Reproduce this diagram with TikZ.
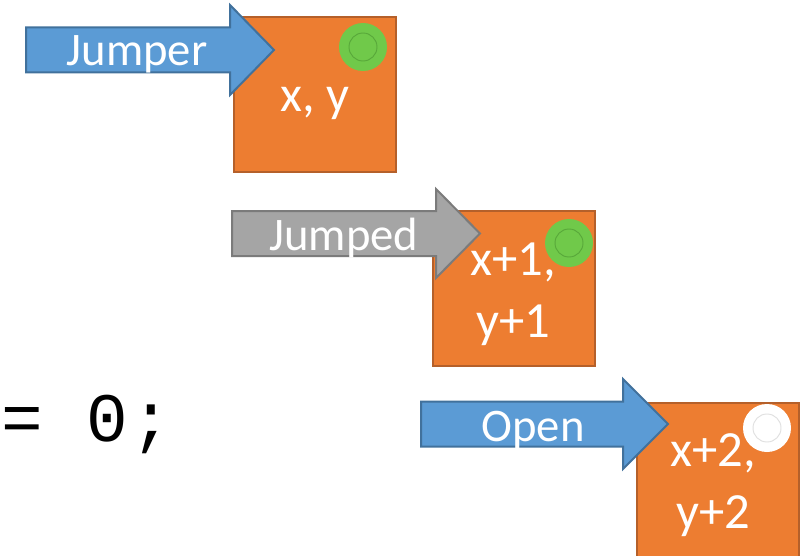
\documentclass[tikz,border=0pt]{standalone}
\usepackage{fontspec}
\setmainfont{Carlito}
\newfontfamily\codefont[LetterSpace=3]{Liberation Mono}
\definecolor{cellorange}{HTML}{ED7D31}
\definecolor{celledge}{HTML}{B5602A}
\definecolor{moveblue}{HTML}{5B9BD5}
\definecolor{moveblueedge}{HTML}{41719C}
\definecolor{movegray}{HTML}{A5A5A5}
\definecolor{movegrayedge}{HTML}{7B7B7B}
\definecolor{peggreen}{HTML}{70C94A}
\definecolor{peggreenedge}{HTML}{58A83A}
\tikzstyle{cell} = [rectangle, draw=celledge, line width=1.5pt, fill=cellorange, minimum width=121.5pt, minimum height=116.25pt, inner sep=0pt]
\tikzstyle{celltext} = [inner sep=0pt, anchor=base, text=white, align=center, font=\fontsize{38}{46}\selectfont]
\tikzstyle{move} = [draw=moveblueedge, fill=moveblue, line width=1.5pt, line join=miter]
\tikzstyle{movetext} = [inner sep=0pt, anchor=base, text=white, font=\fontsize{35}{42}\selectfont]
\tikzstyle{peg} = [circle, fill=peggreen, minimum size=36pt, inner sep=0pt, path picture={\draw[peggreenedge, line width=0.7pt] (path picture bounding box.center) circle (10.5pt);}]
\tikzstyle{hole} = [circle, fill=white, minimum size=36pt, inner sep=0pt, path picture={\draw[black!12, line width=0.7pt] (path picture bounding box.center) circle (10.5pt);}]

\begin{document}
\begin{tikzpicture}[x=0.75pt,y=-0.75pt]
  \useasboundingbox (0,0) rectangle (810,556);
  \node[cell] (start) at (315,94.5) {};
  \node[cell] (middle) at (514,288) {};
  \node[cell] (target) at (717.5,480.5) {};

  \draw[move] (26,27.5) -- (230,27.5) -- (230,5) -- (274,50) -- (230,95) -- (230,72.5) -- (26,72.5) -- cycle;
  \draw[move, draw=movegrayedge, fill=movegray] (232,211) -- (436,211) -- (436,189) -- (480,233.5) -- (436,278) -- (436,256) -- (232,256) -- cycle;
  \draw[move] (421,401.5) -- (623,401.5) -- (623,379) -- (668,424) -- (623,469) -- (623,446.5) -- (421,446.5) -- cycle;

  \node[movetext] (jumper) at (137,66) {Jumper};
  \node[movetext] (jumped) at (344,250) {Jumped};
  \node[movetext] (open) at (533,441) {Open};

  \node[celltext] (start text) at (315,112) {x, y};
  \node[celltext] (middle text) at (513,337) {x+1,\\y+1};
  \node[celltext] (target text) at (713,528) {x+2,\\y+2};

  \node[peg] (peg start) at (363,47) {};
  \node[peg] (peg middle) at (569,243) {};
  \node[hole] (hole target) at (767,428) {};

  \node[anchor=base west, inner sep=0pt, font=\codefont\fontsize{52}{60}\selectfont] (code) at (1,441) {= 0;};
\end{tikzpicture}
\end{document}
